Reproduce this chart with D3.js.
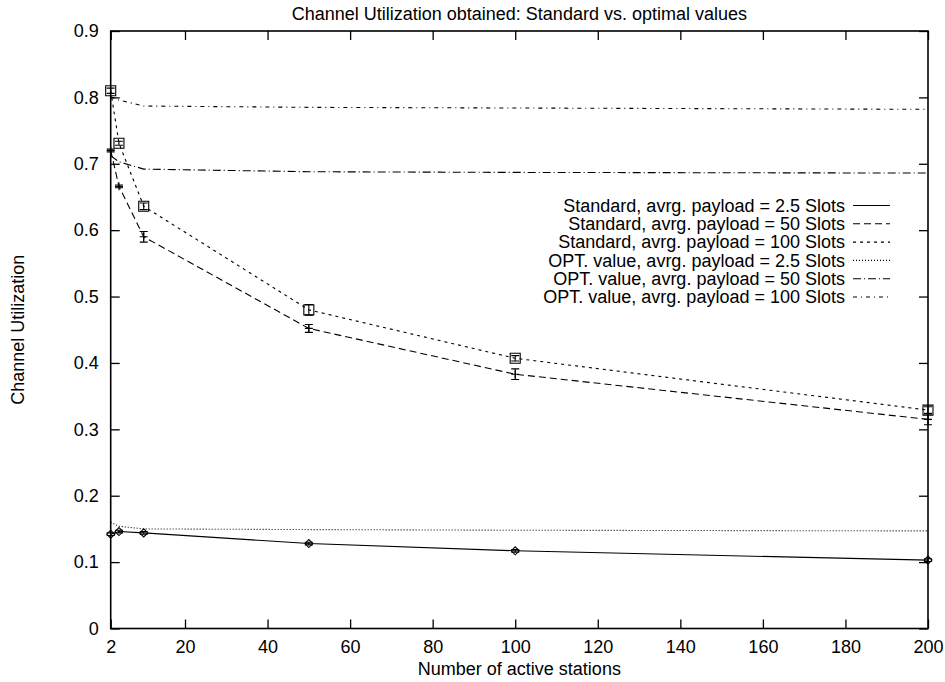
<html>

<head>

<script src="https://cdnjs.cloudflare.com/ajax/libs/d3/7.8.5/d3.min.js"></script>

<style>
 body { margin: 0; background: #fff; }
 text { font-family: "Liberation Sans", Arial, Helvetica, sans-serif; font-size: 18px; fill: #000; }
</style>

<script type="text/javascript">

// number of active stations (x positions of the measured points)
var stations = [2, 4, 10, 50, 100, 200];

// Standard runs with their error bars
var std25 = [0.142, 0.146, 0.144, 0.128, 0.117, 0.103];
var std25Err = [0.002, 0.002, 0.002, 0.002, 0.002, 0.002];
var std50 = [0.720, 0.666, 0.590, 0.452, 0.383, 0.315];
var std50Err = [0.002, 0.002, 0.008, 0.006, 0.008, 0.008];
var std100 = [0.810, 0.731, 0.636, 0.480, 0.407, 0.329];
var std100Err = [0.004, 0.003, 0.005, 0.008, 0.004, 0.005];

// optimal values (no markers)
var opt25 = [0.160, 0.154, 0.150, 0.149, 0.148, 0.147];
var opt50 = [0.712, 0.703, 0.692, 0.688, 0.687, 0.686];
var opt100 = [0.801, 0.796, 0.787, 0.785, 0.784, 0.782];

var xTicks = [2, 20, 40, 60, 80, 100, 120, 140, 160, 180, 200];
var yTicks = [0, 0.1, 0.2, 0.3, 0.4, 0.5, 0.6, 0.7, 0.8, 0.9];

var legendNames = [
  "Standard, avrg. payload = 2.5 Slots",
  "Standard, avrg. payload = 50 Slots",
  "Standard, avrg. payload = 100 Slots",
  "OPT. value, avrg. payload = 2.5 Slots",
  "OPT. value, avrg. payload = 50 Slots",
  "OPT. value, avrg. payload = 100 Slots"
];

 window.onload = function()
 {
  var svg = d3.select("body").append("svg").attr("width", "945").attr("height", "682"),
      margin = {top: 31, right: 17, bottom: 53.5, left: 110.7},
      width = 945 - margin.left - margin.right,
      height = 682 - margin.top - margin.bottom,
      g = svg.append("g").attr("transform", "translate(" + margin.left + "," + margin.top + ")");

  var x = d3.scaleLinear().domain([2, 200]).range([0, width]),
      y = d3.scaleLinear().domain([0, 0.9]).range([height, 0]);

  var line = d3.line()
      .x(function(d) { return x(d[0]); })
      .y(function(d) { return y(d[1]); });

  function pairs(vals) {
    return stations.map(function(s, i) { return [s, vals[i]]; });
  }

  var series = [
    {vals: std25, err: std25Err, dash: null, mark: "diamond"},
    {vals: std50, err: std50Err, dash: "7,4", mark: "plus"},
    {vals: std100, err: std100Err, dash: "3,4", mark: "box"},
    {vals: opt25, dash: "1,2"},
    {vals: opt50, dash: "8,3,1,3"},
    {vals: opt100, dash: "4,4,1,4"}
  ];

  // axes, gnuplot style: ticks inside, mirrored on top and right
  g.append("g")
      .attr("transform", "translate(0," + height + ")")
      .call(d3.axisBottom(x).tickValues(xTicks).tickSize(-9).tickPadding(12).tickFormat(d3.format("d")))
      .call(styleAxis);
  g.append("g")
      .call(d3.axisTop(x).tickValues(xTicks).tickSize(-9).tickFormat(""))
      .call(styleAxis);
  g.append("g")
      .call(d3.axisLeft(y).tickValues(yTicks).tickSize(-9).tickPadding(12).tickFormat(function(d) { return d === 0 ? "0" : d3.format(".1f")(d); }))
      .call(styleAxis);
  g.append("g")
      .attr("transform", "translate(" + width + ",0)")
      .call(d3.axisRight(y).tickValues(yTicks).tickSize(-9).tickFormat(""))
      .call(styleAxis);

  g.append("rect")
      .attr("width", width).attr("height", height)
      .attr("fill", "none").attr("stroke", "#000").attr("stroke-width", 1.6);

  function styleAxis(sel) {
    sel.select(".domain").remove();
    sel.selectAll(".tick line").attr("stroke", "#000").attr("stroke-width", 1.3);
    sel.selectAll("text").attr("font-size", null).attr("font-family", null).attr("fill", "#000");
  }

  // curves
  series.forEach(function(s) {
    g.append("path")
        .datum(pairs(s.vals))
        .attr("d", line)
        .attr("fill", "none")
        .attr("stroke", "#000")
        .attr("stroke-width", 1.1)
        .attr("stroke-dasharray", s.dash);
  });

  // error bars and point markers
  series.forEach(function(s) {
    if (!s.err) return;
    var pts = g.append("g").selectAll("g")
        .data(pairs(s.vals).map(function(p, i) { return {x: p[0], y: p[1], e: s.err[i]}; }))
        .enter().append("g")
        .attr("transform", function(d) { return "translate(" + x(d.x) + ",0)"; });

    pts.append("path")
        .attr("d", function(d) {
          var y0 = y(d.y - d.e), y1 = y(d.y + d.e);
          return "M0," + y0 + "V" + y1 + "M-4," + y0 + "H4M-4," + y1 + "H4";
        })
        .attr("stroke", "#000").attr("stroke-width", 1.1).attr("fill", "none");

    pts.append("path")
        .attr("d", function(d) {
          var c = y(d.y);
          if (s.mark === "diamond") return "M-4," + c + "L0," + (c - 4) + "L4," + c + "L0," + (c + 4) + "Z";
          if (s.mark === "box") return "M-5," + (c - 5) + "H5V" + (c + 5) + "H-5Z";
          return "M-4," + c + "H4M0," + (c - 4) + "V" + (c + 4);
        })
        .attr("stroke", "#000").attr("stroke-width", 1.1).attr("fill", "none");
  });

  // legend
  var legend = g.append("g").selectAll("g")
      .data(legendNames)
      .enter().append("g")
      .attr("transform", function(d, i) { return "translate(0," + (174.5 + i * 18.3) + ")"; });

  legend.append("text")
      .attr("x", 734.3)
      .attr("dy", "0.35em")
      .attr("text-anchor", "end")
      .text(function(d) { return d; });

  legend.append("line")
      .attr("x1", 742.3).attr("x2", 779.3)
      .attr("stroke", "#000").attr("stroke-width", 1.1)
      .attr("stroke-dasharray", function(d, i) { return series[i].dash; });

  // titles
  svg.append("text")
      .attr("x", margin.left + width / 2).attr("y", 20)
      .attr("text-anchor", "middle")
      .text("Channel Utilization obtained: Standard vs. optimal values");

  svg.append("text")
      .attr("x", margin.left + width / 2).attr("y", 675)
      .attr("text-anchor", "middle")
      .text("Number of active stations");

  svg.append("text")
      .attr("transform", "translate(24," + (margin.top + height / 2) + ") rotate(-90)")
      .attr("text-anchor", "middle")
      .text("Channel Utilization");
 }

</script>

</head>

<body>

</body>

</html>
